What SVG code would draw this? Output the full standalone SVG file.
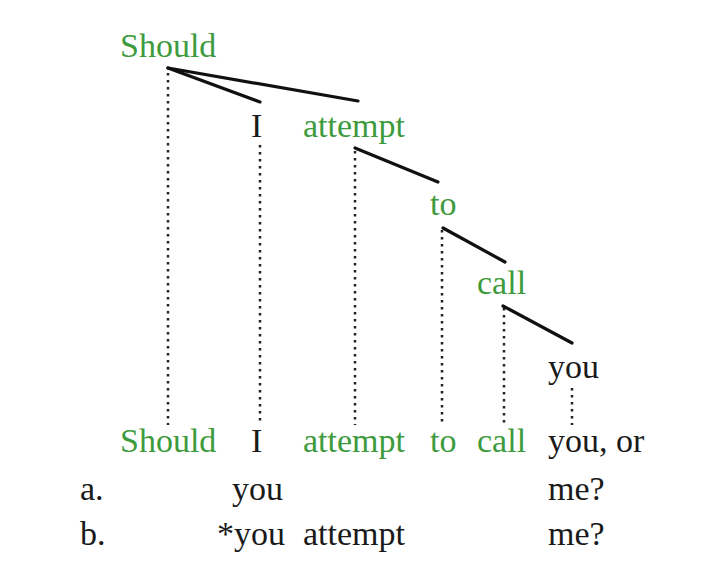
<svg xmlns="http://www.w3.org/2000/svg" width="728" height="584" viewBox="0 0 728 584">
<style>
text{font-family:"Liberation Serif","Times New Roman",serif;font-size:34px;fill:#1a1a1a}
.g{fill:#3d9b3d}
.s{stroke:#111;stroke-width:3.2;fill:none;stroke-linecap:round}
.d{stroke:#222;stroke-width:2.5;stroke-dasharray:2.5 4.5;fill:none}
</style>
<rect width="728" height="584" fill="#fff"/>
<g id="connectors">
<line class="s" x1="168" y1="68" x2="260" y2="102"/>
<line class="s" x1="168" y1="68" x2="358" y2="101"/>
<line class="s" x1="355" y1="148" x2="438" y2="182"/>
<line class="s" x1="443" y1="228" x2="505" y2="262"/>
<line class="s" x1="503" y1="306" x2="572" y2="343"/>
<line class="d" x1="168" y1="73" x2="168" y2="425"/>
<line class="d" x1="260" y1="145" x2="260" y2="425"/>
<line class="d" x1="355" y1="151" x2="355" y2="425"/>
<line class="d" x1="442" y1="230" x2="442" y2="425"/>
<line class="d" x1="504" y1="308" x2="504" y2="425"/>
<line class="d" x1="572" y1="388" x2="572" y2="425"/>
</g>
<g id="n-should"><text class="g" x="120" y="57">Should</text></g>
<g id="n-i"><text x="251" y="137">I</text></g>
<g id="n-attempt"><text class="g" x="303" y="137">attempt</text></g>
<g id="n-to"><text class="g" x="430" y="215">to</text></g>
<g id="n-call"><text class="g" x="477" y="294">call</text></g>
<g id="n-you"><text x="548" y="378">you</text></g>
<g id="sentence">
<text class="g" x="120" y="452">Should</text>
<text x="251" y="452">I</text>
<text class="g" x="303" y="452">attempt</text>
<text class="g" x="430" y="452">to</text>
<text class="g" x="477" y="452">call</text>
<text x="548" y="452">you, or</text>
</g>
<g id="row-a">
<text x="80" y="500">a.</text>
<text x="232" y="500">you</text>
<text x="548" y="500">me?</text>
</g>
<g id="row-b">
<text x="80" y="545">b.</text>
<text x="217" y="545">*you</text>
<text x="303" y="545">attempt</text>
<text x="548" y="545">me?</text>
</g>
</svg>
